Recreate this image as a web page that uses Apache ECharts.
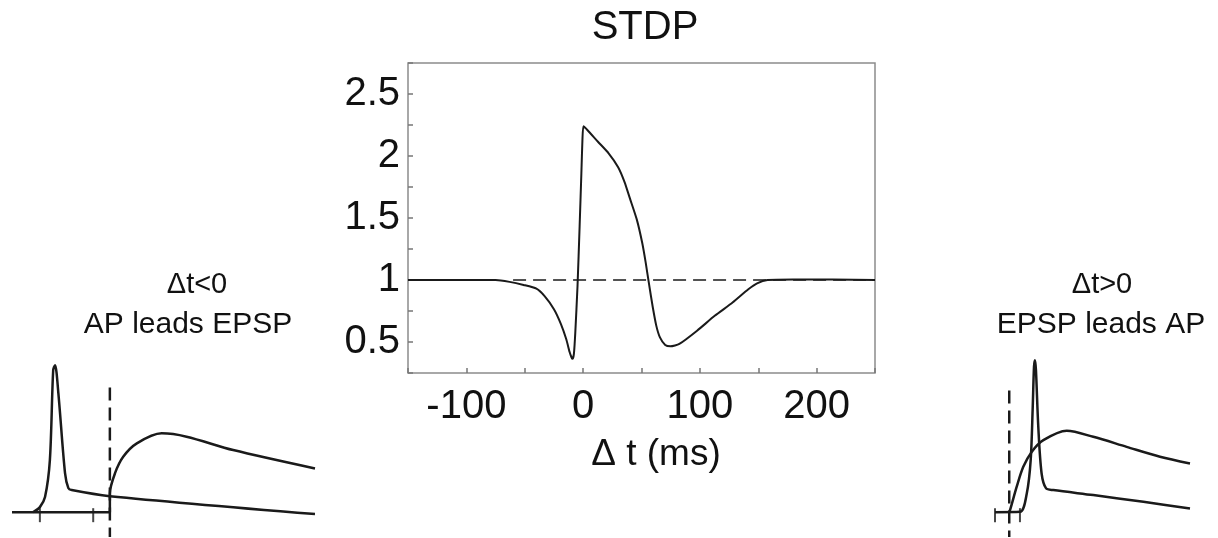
<!DOCTYPE html>
<html><head><meta charset="utf-8">
<script src="https://cdn.jsdelivr.net/npm/echarts@6/dist/echarts.min.js"></script>
<style>html,body{margin:0;padding:0;background:#fff}#c{width:1218px;height:538px}</style>
</head><body><div id="c"></div>
<script>
// ---- main STDP curve (Δt in ms, relative weight change) ----
const stdpX = [-150, -75, -63, -51, -40, -33, -25, -19, -14.5, -11.5, -10, -9.1, -7.9, -6.7, -4.8, -3.0, -1.5, -0.6, 0.3, 3.6, 12.7, 22, 30, 35.5, 40, 46, 50.6, 53.6, 56.7, 59.7, 62.7, 65.8, 70.3, 74.8, 82.4, 97.6, 112.7, 128, 141.5, 149, 158, 180, 250];
const stdpY = [1, 1, 0.985, 0.96, 0.93, 0.87, 0.765, 0.645, 0.524, 0.417, 0.377, 0.364, 0.404, 0.578, 0.952, 1.433, 1.861, 2.128, 2.24, 2.21, 2.115, 2.02, 1.91, 1.79, 1.66, 1.487, 1.3, 1.14, 0.952, 0.778, 0.63, 0.537, 0.476, 0.465, 0.484, 0.591, 0.711, 0.818, 0.925, 0.973, 1.0, 1.005, 1.0];
const refX = [-60, 250];
const refY = [1, 1];
const xTickLabels = ['-100', '0', '100', '200'];
const yTickLabels = ['0.5', '1', '1.5', '2', '2.5'];

// ---- left inset: Δt<0, AP leads EPSP (arbitrary time / voltage units) ----
const leftApX = [7.0, 9.2, 10.9, 12.5, 13.6, 14.2, 15.3, 17.5, 18.6, 19.7, 32.3, 100];
const leftApY = [0, 3.3, 9.9, 34.2, 93.4, 96.6, 78.2, 25.6, 15.8, 14.5, 10.5, -1.3];
const leftEpspX = [0, 32.3, 32.3, 34, 36.7, 41.2, 49.4, 57.6, 73, 100];
const leftEpspY = [0, 0, 12.3, 25.6, 36.4, 45.2, 51.8, 49.6, 40.8, 28.7];
const leftMarkX = [32.3, 32.3];
const leftMarkY = [82, -16.4];
const leftTickX = [9.2, 26.8];

// ---- right inset: Δt>0, EPSP leads AP ----
const rightApX = [0, 12.8, 16.3, 18.3, 19.3, 20, 20.5, 21, 22.2, 23.9, 26.2, 29.9, 50.4, 76.1, 100];
const rightApY = [0, 0.2, 12.3, 34.2, 67.1, 95.5, 99.9, 93.4, 56.1, 25.4, 15.6, 14.5, 11.2, 6.8, 2.4];
const rightEpspX = [7.2, 7.7, 11.1, 14.5, 18.8, 24.8, 36.8, 50.4, 67.5, 84.6, 100];
const rightEpspY = [0, 1.3, 16.6, 29.8, 39.6, 47.3, 53.5, 49.5, 42.9, 36.4, 32.0];
const rightMarkX = [7.3, 7.3];
const rightMarkY = [80, -16.4];
const rightTickX = [0, 12.8];

const zip = (a, b) => a.map((v, i) => [v, b[i]]);
const FONT = '"Liberation Sans", Arial, Helvetica, sans-serif';
const INK = '#1a1a1a';

const chart = echarts.init(document.getElementById('c'), null, {renderer: 'canvas'});
const hiddenAxis = (extra) => Object.assign({type: 'value', show: false, splitLine: {show: false}}, extra);

chart.setOption({
  animation: false,
  backgroundColor: '#ffffff',
  grid: [
    {left: 408, top: 63, width: 467, height: 310, show: true, borderColor: '#8c8c8c', borderWidth: 1.5, backgroundColor: 'transparent'},
    {left: 12, top: 360, width: 303, height: 178},
    {left: 995, top: 360, width: 195, height: 178}
  ],
  xAxis: [
    {type: 'value', gridIndex: 0, min: -150, max: 250, interval: 50,
     axisLine: {show: false, onZero: false}, splitLine: {show: false},
     axisTick: {show: true, inside: true, length: 5, lineStyle: {color: '#777', width: 1.5}},
     axisLabel: {fontFamily: FONT, fontSize: 40, color: '#111', margin: 14,
       formatter: v => xTickLabels.includes(String(v)) ? String(v) : ''}},
    hiddenAxis({gridIndex: 1, min: 0, max: 100}),
    hiddenAxis({gridIndex: 2, min: 0, max: 100})
  ],
  yAxis: [
    {type: 'value', gridIndex: 0, min: 0.25, max: 2.75, interval: 0.25,
     axisLine: {show: false, onZero: false}, splitLine: {show: false},
     axisTick: {show: true, inside: true, length: 5, lineStyle: {color: '#777', width: 1.5}},
     axisLabel: {fontFamily: FONT, fontSize: 40, color: '#111', margin: 8,
       formatter: v => { const s = String(Math.round(v * 100) / 100); return yTickLabels.includes(s) ? s : ''; }}},
    hiddenAxis({gridIndex: 1, min: -17, max: 100}),
    hiddenAxis({gridIndex: 2, min: -17, max: 100})
  ],
  graphic: [
    {type: 'text', x: 645, y: 28, style: {text: 'STDP', font: '40px ' + FONT, fill: '#111', textAlign: 'center', textVerticalAlign: 'middle'}},
    {type: 'text', x: 656, y: 455, style: {text: 'Δ t (ms)', font: '37px ' + FONT, fill: '#111', textAlign: 'center', textVerticalAlign: 'middle'}},
    {type: 'text', x: 197, y: 285, style: {text: 'Δt<0', font: '29px ' + FONT, fill: '#111', textAlign: 'center', textVerticalAlign: 'middle'}},
    {type: 'text', x: 188, y: 325, style: {text: 'AP leads EPSP', font: '30px ' + FONT, fill: '#111', textAlign: 'center', textVerticalAlign: 'middle'}},
    {type: 'text', x: 1102, y: 285, style: {text: 'Δt>0', font: '29px ' + FONT, fill: '#111', textAlign: 'center', textVerticalAlign: 'middle'}},
    {type: 'text', x: 1101, y: 325, style: {text: 'EPSP leads AP', font: '30px ' + FONT, fill: '#111', textAlign: 'center', textVerticalAlign: 'middle'}}
  ],
  series: [
    {type: 'line', xAxisIndex: 0, yAxisIndex: 0, data: zip(stdpX, stdpY), symbol: 'none', smooth: 0.2,
     lineStyle: {color: INK, width: 2}},
    {type: 'line', xAxisIndex: 0, yAxisIndex: 0, data: zip(refX, refY), symbol: 'none',
     lineStyle: {color: INK, width: 1.5, type: [13, 7]}},

    {type: 'line', xAxisIndex: 1, yAxisIndex: 1, data: zip(leftApX, leftApY), symbol: 'none', smooth: 0.3,
     lineStyle: {color: INK, width: 2.5}},
    {type: 'line', xAxisIndex: 1, yAxisIndex: 1, data: zip(leftEpspX, leftEpspY), symbol: 'none', smooth: 0.3,
     lineStyle: {color: INK, width: 2.5}},
    {type: 'line', xAxisIndex: 1, yAxisIndex: 1, data: zip(leftMarkX, leftMarkY), symbol: 'none',
     lineStyle: {color: INK, width: 2.5, type: [13, 7]}},
    {type: 'scatter', xAxisIndex: 1, yAxisIndex: 1, data: leftTickX.map(v => [v, -2]), symbol: 'rect', symbolSize: [2, 14],
     itemStyle: {color: INK}},

    {type: 'line', xAxisIndex: 2, yAxisIndex: 2, data: zip(rightApX, rightApY), symbol: 'none', smooth: 0.3,
     lineStyle: {color: INK, width: 2.5}},
    {type: 'line', xAxisIndex: 2, yAxisIndex: 2, data: zip(rightEpspX, rightEpspY), symbol: 'none', smooth: 0.3,
     lineStyle: {color: INK, width: 2.5}},
    {type: 'line', xAxisIndex: 2, yAxisIndex: 2, data: zip(rightMarkX, rightMarkY), symbol: 'none',
     lineStyle: {color: INK, width: 2.5, type: [13, 7]}},
    {type: 'scatter', xAxisIndex: 2, yAxisIndex: 2, data: rightTickX.map(v => [v, -2]), symbol: 'rect', symbolSize: [2, 14],
     itemStyle: {color: INK}}
  ]
});
</script></body></html>
